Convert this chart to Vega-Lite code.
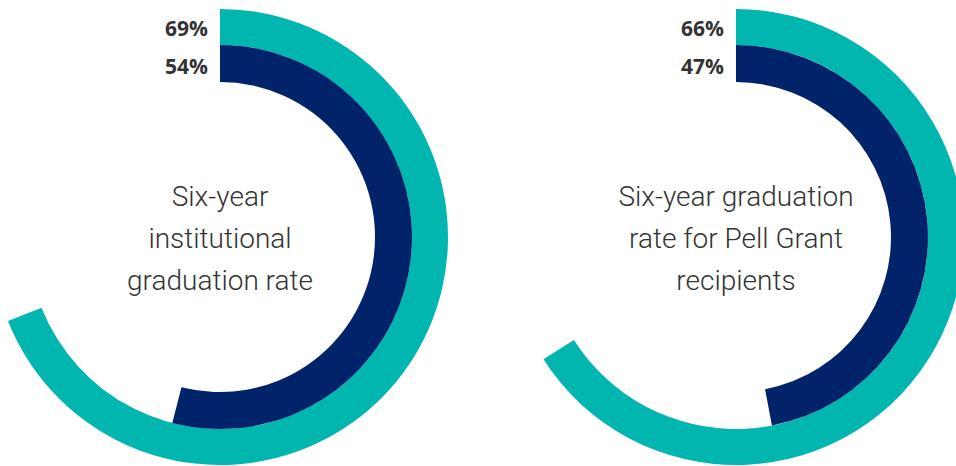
{
  "$schema": "https://vega.github.io/schema/vega-lite/v6.json",
  "width": 956,
  "height": 466,
  "autosize": {"type": "fit", "contains": "padding"},
  "padding": {"top": 8, "bottom": 0, "left": 0, "right": 0},
  "background": "white",
  "config": {"view": {"stroke": null}},
  "data": {
    "values": [
      {"chart": "A", "ring": "outer", "value": 69, "label": "69%"},
      {"chart": "A", "ring": "inner", "value": 54, "label": "54%"},
      {"chart": "B", "ring": "outer", "value": 66, "label": "66%"},
      {"chart": "B", "ring": "inner", "value": 47, "label": "47%"},
      {"chart": "A", "ring": "title", "value": 0, "label": "Six-year\ninstitutional\ngraduation rate"},
      {"chart": "B", "ring": "title", "value": 0, "label": "Six-year graduation\nrate for Pell Grant\nrecipients"}
    ]
  },
  "encoding": {
    "x": {"field": "chart", "type": "nominal", "scale": {"type": "point", "domain": ["A", "B"], "padding": 0.4264}, "axis": null}
  },
  "layer": [
    {
      "transform": [{"filter": "datum.ring == 'outer'"}],
      "mark": {"type": "arc", "radius": 228, "radius2": 192, "color": "#00b6ae", "clip": true},
      "encoding": {
        "theta": {"field": "value", "type": "quantitative", "stack": null, "scale": {"domain": [0, 100], "range": [0, 6.283185307]}},
        "theta2": {"datum": 0}
      }
    },
    {
      "transform": [{"filter": "datum.ring == 'inner'"}],
      "mark": {"type": "arc", "radius": 192, "radius2": 155, "color": "#00236a", "clip": true},
      "encoding": {
        "theta": {"field": "value", "type": "quantitative", "stack": null},
        "theta2": {"datum": 0}
      }
    },
    {
      "transform": [{"filter": "datum.ring == 'outer'"}],
      "mark": {"type": "text", "radius": 207, "align": "right", "baseline": "middle", "dx": -12, "font": "Open Sans", "fontWeight": "bold", "fontSize": 21, "color": "#333333"},
      "encoding": {
        "theta": {"datum": 0},
        "text": {"field": "label"}
      }
    },
    {
      "transform": [{"filter": "datum.ring == 'inner'"}],
      "mark": {"type": "text", "radius": 169, "align": "right", "baseline": "middle", "dx": -12, "font": "Open Sans", "fontWeight": "bold", "fontSize": 21, "color": "#333333"},
      "encoding": {
        "theta": {"datum": 0},
        "text": {"field": "label"}
      }
    },
    {
      "transform": [{"filter": "datum.ring == 'title'"}],
      "mark": {"type": "text", "align": "center", "baseline": "middle", "lineBreak": "\n", "lineHeight": 42, "dy": -39, "font": "Roboto", "fontWeight": 300, "fontSize": 28, "color": "#333333"},
      "encoding": {
        "text": {"field": "label"}
      }
    }
  ]
}
